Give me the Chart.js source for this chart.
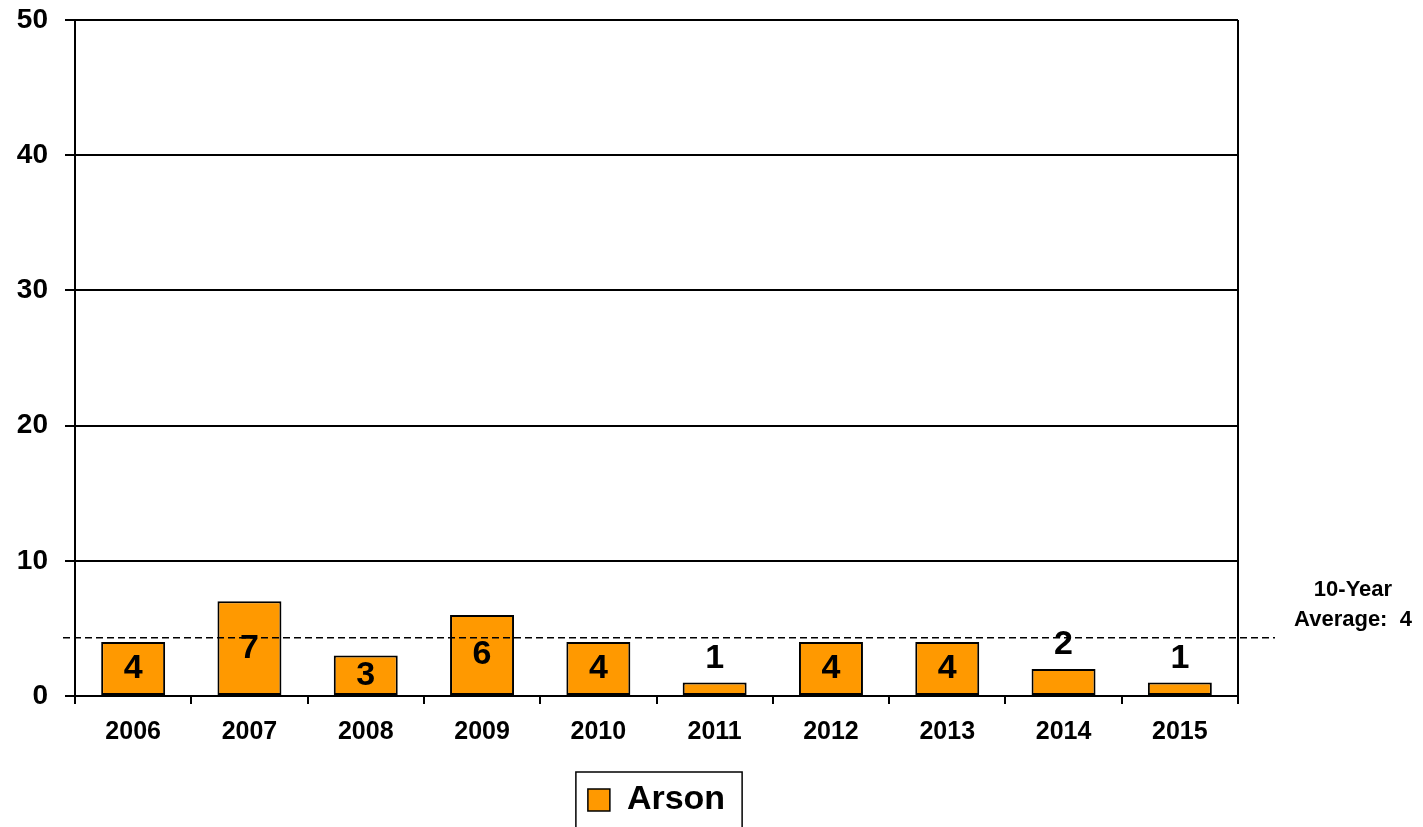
<!DOCTYPE html>
<html>
<head>
<meta charset="utf-8">
<title>Arson</title>
<script src="https://cdn.jsdelivr.net/npm/chart.js@4/dist/chart.umd.min.js"></script>
<style>
    html, body { margin: 0; padding: 0; background: #ffffff; }
    #wrap { width: 1423px; height: 827px; position: relative; }
</style>
</head>
<body>
<div id="wrap"><canvas id="arsonChart"></canvas></div>
<script>
// Chart data
const years = ['2006', '2007', '2008', '2009', '2010', '2011', '2012', '2013', '2014', '2015'];
const arsonCounts = [4, 7, 3, 6, 4, 1, 4, 4, 2, 1];
const yTicks = [0, 10, 20, 30, 40, 50];
const averageLine = 4.3;
const averageText = ['10-Year', 'Average:  4'];

const fontFamily = "'Liberation Sans', Arial, sans-serif";
const barOrange = '#FF9900';

// Value labels: centred in tall bars, above short ones
const valueLabels = {
    id: 'valueLabels',
    afterDatasetsDraw(chart) {
        const ctx = chart.ctx;
        const meta = chart.getDatasetMeta(0);
        ctx.save();
        ctx.font = 'bold 34px ' + fontFamily;
        ctx.fillStyle = '#000';
        ctx.textAlign = 'center';
        ctx.textBaseline = 'middle';
        meta.data.forEach((bar, i) => {
            const v = arsonCounts[i];
            const y = v >= 3 ? (bar.y + bar.base) / 2 : bar.y - 24;
            ctx.fillText(String(v), bar.x, y);
        });
        ctx.restore();
    }
};

// Dashed 10-year average line, its note, right border and legend frame
const extras = {
    id: 'extras',
    afterDraw(chart) {
        const ctx = chart.ctx;
        const area = chart.chartArea;
        const yScale = chart.scales.y;
        const yAvg = yScale.getPixelForValue(averageLine);

        ctx.save();
        // right border of plot
        ctx.strokeStyle = '#000';
        ctx.lineWidth = 2;
        ctx.beginPath();
        ctx.moveTo(area.right, area.top);
        ctx.lineTo(area.right, area.bottom);
        ctx.stroke();

        // average line
        ctx.lineWidth = 1.5;
        ctx.setLineDash([7, 4]);
        ctx.beginPath();
        ctx.moveTo(area.left - 12, yAvg);
        ctx.lineTo(area.right + 37, yAvg);
        ctx.stroke();
        ctx.setLineDash([]);

        // average note
        ctx.font = 'bold 22px ' + fontFamily;
        ctx.fillStyle = '#000';
        ctx.textAlign = 'center';
        ctx.textBaseline = 'middle';
        ctx.fillText(averageText[0], 1353, 590);
        ctx.fillText(averageText[1], 1353, 620);

        // legend frame
        const legend = chart.legend;
        if (legend && legend.legendHitBoxes && legend.legendHitBoxes.length) {
            const hb = legend.legendHitBoxes[0];
            ctx.lineWidth = 1.5;
            ctx.strokeRect(hb.left - 12, 772, hb.width + 29, 80);
        }
        ctx.restore();
    }
};

new Chart(document.getElementById('arsonChart'), {
    type: 'bar',
    data: {
        labels: years,
        datasets: [{
            label: 'Arson',
            data: arsonCounts,
            backgroundColor: barOrange,
            borderColor: '#000',
            borderWidth: 2,
            borderSkipped: false,
            barPercentage: 0.55,
            categoryPercentage: 1.0
        }]
    },
    options: {
        responsive: true,
        maintainAspectRatio: false,
        animation: false,
        layout: {
            padding: { top: 20, right: 185, bottom: 0, left: 0 }
        },
        plugins: {
            tooltip: { enabled: false },
            legend: {
                display: true,
                position: 'bottom',
                fullSize: false,
                labels: {
                    color: '#000',
                    boxWidth: 22,
                    boxHeight: 22,
                    padding: 10,
                    font: { family: fontFamily, size: 34, weight: 'bold' },
                    generateLabels: () => [{
                        text: 'Arson',
                        fillStyle: barOrange,
                        strokeStyle: '#000',
                        lineWidth: 1.5,
                        hidden: false,
                        datasetIndex: 0
                    }]
                }
            }
        },
        scales: {
            x: {
                grid: {
                    drawOnChartArea: false,
                    drawTicks: true,
                    tickLength: 8,
                    color: '#000',
                    lineWidth: 2
                },
                border: { color: '#000', width: 2 },
                ticks: {
                    color: '#000',
                    padding: 13,
                    maxRotation: 0,
                    font: { family: fontFamily, size: 25, weight: 'bold' }
                },
                afterFit(scale) { scale.height = 77; }
            },
            y: {
                min: 0,
                max: 50,
                afterBuildTicks(scale) {
                    scale.ticks = yTicks.map(v => ({ value: v }));
                },
                grid: {
                    color: '#000',
                    lineWidth: 2,
                    tickLength: 10
                },
                border: { color: '#000', width: 2 },
                ticks: {
                    color: '#000',
                    padding: 17,
                    font: { family: fontFamily, size: 28, weight: 'bold' }
                },
                afterFit(scale) {
                    scale.width = 75;
                    scale.paddingTop = 0;
                    scale.paddingBottom = 0;
                }
            }
        }
    },
    plugins: [valueLabels, extras]
});
</script>
</body>
</html>
